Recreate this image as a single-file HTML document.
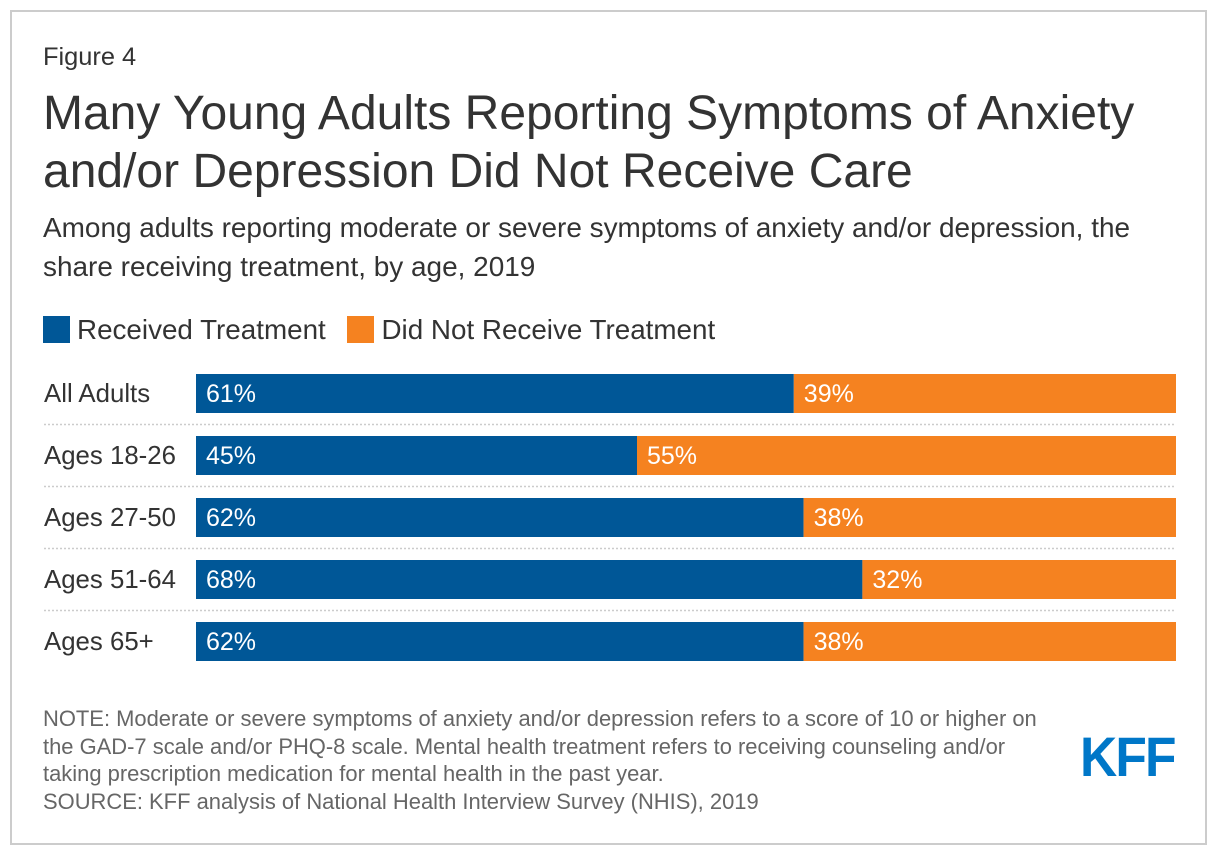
<!DOCTYPE html>
<html><head><meta charset="utf-8"><style>
body{margin:0;width:1220px;height:858px;background:#fff;font-family:"Liberation Sans",sans-serif;position:relative;overflow:hidden}
.frame{position:absolute;left:10px;top:10px;width:1197px;height:835px;border:2px solid #ccc;box-sizing:border-box}
.t{position:absolute;left:43px;white-space:nowrap;color:#333}
</style></head><body>
<div class="frame"></div>
<div class="t" style="top:43px;font-size:25.4px">Figure 4</div>
<div class="t" style="top:85px;font-size:48px;line-height:58px">Many Young Adults Reporting Symptoms of Anxiety<br>and/or Depression Did Not Receive Care</div>
<div class="t" style="top:208px;font-size:27.95px;line-height:39px">Among adults reporting moderate or severe symptoms of anxiety and/or depression, the<br>share receiving treatment, by age, 2019</div>
<div style="position:absolute;left:43px;top:314px;font-size:27.8px;color:#333;white-space:nowrap">
<span><span style="display:inline-block;width:27px;height:27px;background:#005797;vertical-align:-4px;margin-right:7px"></span>Received Treatment</span>
<span style="margin-left:14px"><span style="display:inline-block;width:27px;height:27px;background:#f58220;vertical-align:-4px;margin-right:7px"></span>Did Not Receive Treatment</span>
</div>
<svg id="chart" width="1220" height="858" style="position:absolute;left:0;top:0"></svg>
<div class="t" style="top:705px;font-size:21.95px;line-height:27.5px;color:#666">NOTE: Moderate or severe symptoms of anxiety and/or depression refers to a score of 10 or higher on<br>the GAD-7 scale and/or PHQ-8 scale. Mental health treatment refers to receiving counseling and/or<br>taking prescription medication for mental health in the past year.<br>SOURCE: KFF analysis of National Health Interview Survey (NHIS), 2019</div>
<div style="position:absolute;left:1080px;top:724px;font-size:56px;font-weight:bold;color:#0077c8;letter-spacing:-2px;transform:scaleX(0.92);transform-origin:left top">KFF</div>
<script>
const categories=["All Adults","Ages 18-26","Ages 27-50","Ages 51-64","Ages 65+"];
const received=[61,45,62,68,62];
const notReceived=[39,55,38,32,38];
const svg=document.getElementById('chart');
const NS='http://www.w3.org/2000/svg';
const x0=196,x1=1176,top0=374,pitch=62,bh=39;
const xs=v=>(x1-x0)*v/100;
function mk(tag,attrs){const e=document.createElementNS(NS,tag);for(const k in attrs)e.setAttribute(k,attrs[k]);svg.appendChild(e);return e;}
categories.forEach((c,i)=>{
 const y=top0+i*pitch;
 const lab=mk('text',{x:44,y:y+28,'font-size':25.8,fill:'#333'});lab.textContent=c;
 
 
 const tot=received[i]+notReceived[i];
 const w1=xs(received[i]/tot*100);
 const b1=mk('rect',{x:x0,y:y,width:w1,height:bh,fill:'#005797'});
 
 
 const b2=mk('rect',{x:x0+w1,y:y,width:(x1-x0)-w1,height:bh,fill:'#f58220'});
 
 
 const t1=mk('text',{x:x0+10,y:y+28,'font-size':25,fill:'#fff'});t1.textContent=received[i]+'%';
 
 
 const t2=mk('text',{x:x0+w1+10,y:y+28,'font-size':25,fill:'#fff'});t2.textContent=notReceived[i]+'%';
 
 
 if(i<categories.length-1){
  const l=mk('line',{x1:44,x2:x1,y1:y+bh+11.5,y2:y+bh+11.5,stroke:'#ccc','stroke-width':1.5,'stroke-dasharray':'2,2'});
  
  
 }
});
</script>
</body></html>
